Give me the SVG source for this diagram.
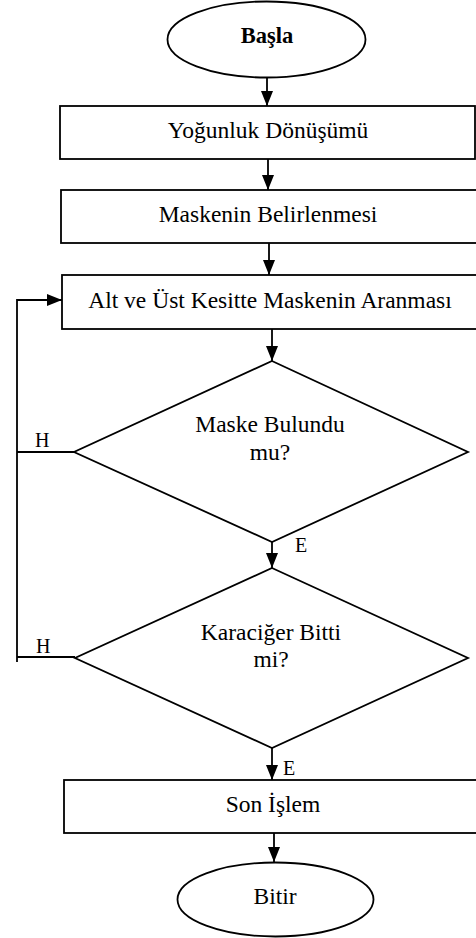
<svg xmlns="http://www.w3.org/2000/svg" width="476" height="938" viewBox="0 0 476 938">
<style>
.s{fill:#fff;stroke:#000;stroke-width:1.8}
.t{font-family:"Liberation Serif","Times New Roman",serif;font-size:23.5px;fill:#000;text-anchor:middle}
.l{font-family:"Liberation Serif","Times New Roman",serif;font-size:20px;fill:#000}
.c{fill:none;stroke:#000;stroke-width:1.8}
</style>
<defs>
<marker id="ah" markerUnits="userSpaceOnUse" markerWidth="15" markerHeight="12" refX="15" refY="6" orient="auto">
<path d="M0,0 L15,6 L0,12 z" fill="#000"/>
</marker>
</defs>
<rect width="476" height="938" fill="#fff"/>
<g id="connectors">
<path class="c" d="M267,78 V106" marker-end="url(#ah)"/>
<path class="c" d="M268,159 V190" marker-end="url(#ah)"/>
<path class="c" d="M269,243 V275" marker-end="url(#ah)"/>
<path class="c" d="M272,329 V361" marker-end="url(#ah)"/>
<path class="c" d="M272,542 V568" marker-end="url(#ah)"/>
<path class="c" d="M272,748 V780" marker-end="url(#ah)"/>
<path class="c" d="M274,833 V862" marker-end="url(#ah)"/>
<path class="c" d="M74,452 H17"/>
<path class="c" d="M75,657 H17"/>
<path class="c" d="M17,662 V300 H62" marker-end="url(#ah)"/>
<text class="l" x="35" y="447">H</text>
<text class="l" x="36" y="653">H</text>
<text class="l" x="295" y="552">E</text>
<text class="l" x="283" y="775">E</text>
</g>
<g id="start">
<ellipse class="s" cx="266.5" cy="39.5" rx="99" ry="38"/>
<text class="t" x="267" y="43" font-weight="bold" style="font-size:22.5px">Başla</text>
</g>
<g id="yogunluk">
<rect class="s" x="60" y="106" width="415" height="53"/>
<text class="t" x="268" y="138">Yoğunluk Dönüşümü</text>
</g>
<g id="maske">
<rect class="s" x="61" y="190" width="417" height="53"/>
<text class="t" x="268" y="222">Maskenin Belirlenmesi</text>
</g>
<g id="arama">
<rect class="s" x="62" y="275" width="416" height="54"/>
<text class="t" x="270" y="308">Alt ve Üst Kesitte Maskenin Aranması</text>
</g>
<g id="karar1">
<polygon class="s" points="272,361 468,452 272,542 74,452"/>
<text class="t" x="270" y="432">Maske Bulundu</text>
<text class="t" x="270" y="460">mu?</text>
</g>
<g id="karar2">
<polygon class="s" points="272,568 468,658 272,748 75,658"/>
<text class="t" x="271" y="640">Karaciğer Bitti</text>
<text class="t" x="271" y="667">mi?</text>
</g>
<g id="son">
<rect class="s" x="64" y="780" width="414" height="53"/>
<text class="t" x="273" y="812">Son İşlem</text>
</g>
<g id="bitir">
<ellipse class="s" cx="275.5" cy="899.5" rx="98" ry="37"/>
<text class="t" x="275" y="904">Bitir</text>
</g>
</svg>
